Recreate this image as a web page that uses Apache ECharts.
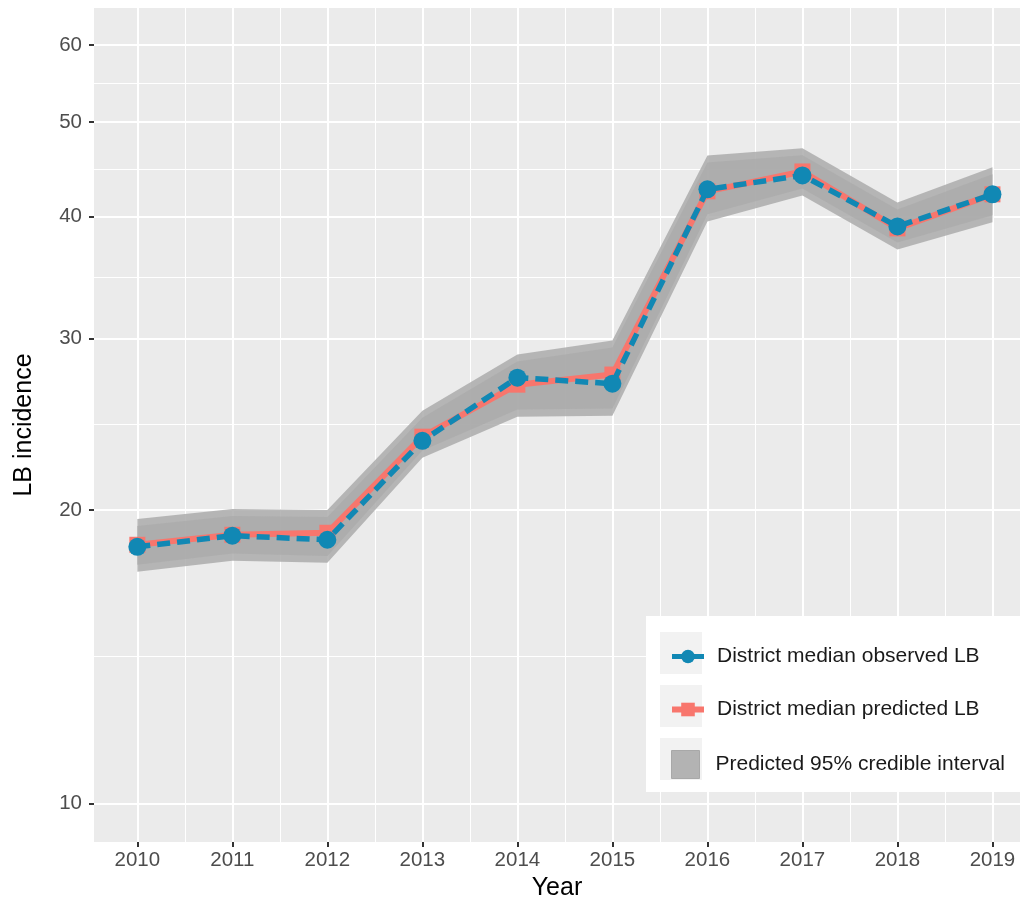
<!DOCTYPE html>
<html>
<head>
<meta charset="utf-8">
<script src="https://cdn.jsdelivr.net/npm/echarts@6/dist/echarts.min.js"></script>
<style>
  html, body { margin: 0; padding: 0; background: #ffffff; }
  #chart { width: 1029px; height: 907px; }
</style>
</head>
<body>
<div id="chart"></div>
<script>
// Yearly district medians of LB incidence (log-scaled y axis)
const years = [2010, 2011, 2012, 2013, 2014, 2015, 2016, 2017, 2018, 2019];
const observed  = [18.33, 18.82, 18.64, 23.55, 27.34, 26.95, 42.66, 44.09, 39.08, 42.16];
const predicted = [18.42, 18.86, 18.95, 23.78, 26.89, 27.54, 42.46, 44.50, 38.90, 42.16];

// 95% credible interval band (outer edge and inner shading)
const ciUpper      = [19.58, 20.05, 20.00, 25.29, 28.87, 29.84, 46.20, 47.00, 41.36, 44.94];
const ciLower      = [17.28, 17.74, 17.65, 22.63, 24.93, 24.99, 39.55, 42.05, 37.00, 39.46];
const ciInnerUpper = [19.26, 19.72, 19.67, 24.87, 28.40, 29.35, 45.44, 46.23, 40.68, 44.20];
const ciInnerLower = [17.57, 18.04, 17.94, 23.01, 25.35, 25.41, 40.21, 42.75, 37.62, 40.12];

// Axis breaks
const yTicks      = [10, 20, 30, 40, 50, 60];
const yMinorTicks = [14.14, 24.49, 34.64, 44.72, 54.77];
const xTicks      = years;
const xMinorTicks = [2010.5, 2011.5, 2012.5, 2013.5, 2014.5, 2015.5, 2016.5, 2017.5, 2018.5];

const NAME_OBS  = 'District median observed LB';
const NAME_PRED = 'District median predicted LB';
const NAME_CI   = 'Predicted 95% credible interval';

const FONT = '"Liberation Sans", Arial, Helvetica, sans-serif';
const lg = v => Math.log10(v);

const X_MIN = 2009.544, X_MAX = 2019.29;
const Y_MIN = 0.9603, Y_MAX = 1.8161;

// Band polygon drawn through the cartesian coordinate system
function band(name, upper, lower, fill) {
  return {
    type: 'custom',
    name: name,
    z: 1,
    clip: true,
    itemStyle: { color: '#B3B3B3' },
    encode: { x: 0, y: [1, 2] },
    data: years.map((y, i) => [y, lg(lower[i]), lg(upper[i])]),
    renderItem: function (params, api) {
      if (params.dataIndexInside !== 0) return null;
      const n = params.dataInsideLength;
      const top = [], bottom = [];
      for (let i = 0; i < n; i++) {
        top.push(api.coord([api.value(0, i), api.value(2, i)]));
        bottom.push(api.coord([api.value(0, i), api.value(1, i)]));
      }
      return {
        type: 'polygon',
        shape: { points: top.concat(bottom.reverse()) },
        style: { fill: fill, stroke: null }
      };
    }
  };
}

const chart = echarts.init(document.getElementById('chart'), null, { renderer: 'canvas' });

chart.setOption({
  animation: false,
  backgroundColor: '#ffffff',
  textStyle: { fontFamily: FONT },
  grid: {
    left: 94, right: 9, top: 8, bottom: 65,
    show: true, backgroundColor: '#EBEBEB', borderWidth: 0
  },
  xAxis: [
    {
      type: 'value', min: X_MIN, max: X_MAX,
      name: 'Year', nameLocation: 'middle', nameGap: 33,
      nameTextStyle: { fontSize: 25, color: '#000000', fontFamily: FONT },
      axisLine: { show: false },
      axisTick: { show: true, customValues: xTicks, length: 5, lineStyle: { color: '#333333', width: 2 } },
      axisLabel: { customValues: xTicks, margin: 8, fontSize: 20.5, color: '#4D4D4D', fontFamily: FONT,
                   formatter: v => String(Math.round(v)) },
      splitLine: { show: true, lineStyle: { color: '#FFFFFF', width: 2 } }
    },
    {
      type: 'value', min: X_MIN, max: X_MAX, position: 'bottom',
      axisLine: { show: false },
      axisTick: { show: false, customValues: xMinorTicks },
      axisLabel: { show: false, customValues: xMinorTicks },
      splitLine: { show: true, lineStyle: { color: '#FFFFFF', width: 1 } }
    }
  ],
  yAxis: [
    {
      type: 'value', min: Y_MIN, max: Y_MAX, position: 'left',
      name: 'LB incidence', nameLocation: 'middle', nameGap: 57,
      nameTextStyle: { fontSize: 25, color: '#000000', fontFamily: FONT },
      axisLine: { show: false },
      axisTick: { show: true, customValues: yTicks.map(lg), length: 5, lineStyle: { color: '#333333', width: 2 } },
      axisLabel: { customValues: yTicks.map(lg), margin: 12, fontSize: 20.5, color: '#4D4D4D', fontFamily: FONT,
                   formatter: v => String(Math.round(Math.pow(10, v))) },
      splitLine: { show: true, lineStyle: { color: '#FFFFFF', width: 2 } }
    },
    {
      type: 'value', min: Y_MIN, max: Y_MAX, position: 'left',
      axisLine: { show: false },
      axisTick: { show: false, customValues: yMinorTicks.map(lg) },
      axisLabel: { show: false, customValues: yMinorTicks.map(lg) },
      splitLine: { show: true, lineStyle: { color: '#FFFFFF', width: 1 } }
    }
  ],
  legend: [
    {
      orient: 'vertical', left: 664, top: 641,
      itemWidth: 32, itemHeight: 17, itemGap: 32,
      selectedMode: false,
      textStyle: { fontSize: 21, lineHeight: 21, color: '#1A1A1A', fontFamily: FONT, padding: [0, 0, 0, 8] },
      data: [
        { name: NAME_OBS, lineStyle: { type: 'solid', width: 5 } },
        { name: NAME_PRED, lineStyle: { width: 6 } }
      ],
      z: 6
    },
    {
      orient: 'vertical', left: 666, top: 745,
      itemWidth: 28, itemHeight: 28,
      selectedMode: false,
      textStyle: { fontSize: 21, lineHeight: 21, color: '#1A1A1A', fontFamily: FONT, padding: [0, 0, 0, 11] },
      data: [
        { name: NAME_CI, icon: 'rect', itemStyle: { color: '#B3B3B3', borderColor: '#A8A8A8', borderWidth: 1 } }
      ],
      z: 6
    }
  ],
  graphic: [
    { type: 'rect', z: 5, shape: { x: 646, y: 616, width: 374, height: 176 }, style: { fill: '#FFFFFF' } },
    { type: 'rect', z: 5, shape: { x: 660, y: 632, width: 42, height: 42 }, style: { fill: '#F2F2F2' } },
    { type: 'rect', z: 5, shape: { x: 660, y: 685, width: 42, height: 42 }, style: { fill: '#F2F2F2' } },
    { type: 'rect', z: 5, shape: { x: 660, y: 738, width: 42, height: 42 }, style: { fill: '#F2F2F2' } }
  ],
  series: [
    band(NAME_CI, ciUpper, ciLower, 'rgba(171,171,171,0.85)'),
    band(NAME_CI, ciInnerUpper, ciInnerLower, 'rgba(171,171,171,0.85)'),
    {
      type: 'line', name: NAME_PRED, z: 3,
      data: years.map((y, i) => [y, lg(predicted[i])]),
      symbol: 'rect', symbolSize: 16,
      itemStyle: { color: '#F8766D', borderWidth: 0 },
      lineStyle: { color: '#F8766D', width: 6, type: 'solid' }
    },
    {
      type: 'line', name: NAME_OBS, z: 4,
      data: years.map((y, i) => [y, lg(observed[i])]),
      symbol: 'circle', symbolSize: 18,
      itemStyle: { color: '#1188B4', borderWidth: 0 },
      lineStyle: { color: '#1188B4', width: 5.5, type: [13, 7] }
    }
  ]
});
</script>
</body>
</html>
